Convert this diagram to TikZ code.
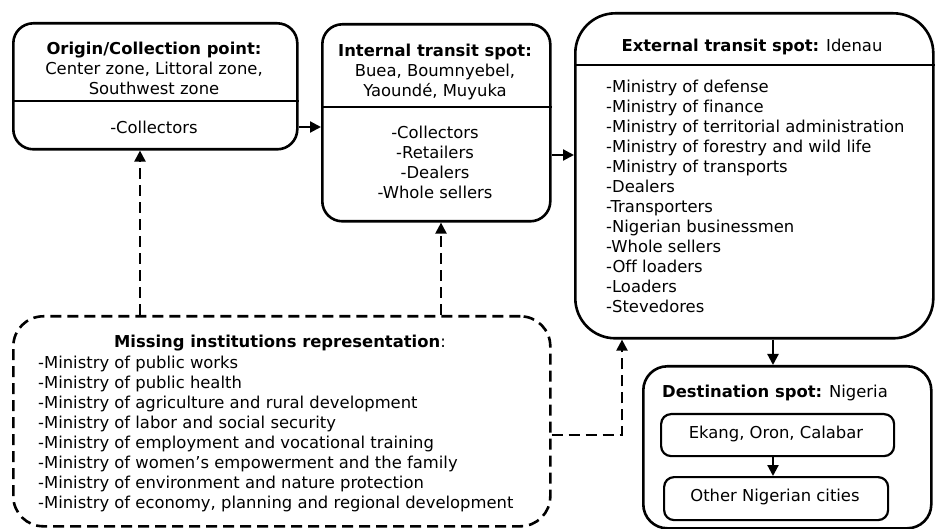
\documentclass[tikz,border=0pt]{standalone}
\usepackage{fontspec}
\setmainfont[Ligatures=NoCommon]{DejaVu Sans}
\usetikzlibrary{arrows.meta}
\begin{document}
\begin{tikzpicture}[x=1pt,y=-1pt,
 box/.style={draw,line width=2.6pt,rounded corners=20pt,inner sep=0pt,anchor=north west},
 txt/.style={inner sep=0pt,font=\fontsize{16.4}{20}\selectfont,align=center},
 ltxt/.style={inner sep=0pt,font=\fontsize{16.4}{20}\selectfont,align=left,anchor=north west},
 flow/.style={line width=2.2pt,-{Triangle[length=11pt,width=11pt]}},
 dflow/.style={flow,dash pattern=on 11pt off 6pt},
 divider/.style={line width=2.6pt}]
\useasboundingbox (0,0) rectangle (935,529);
% boxes
\node[box,minimum width=284pt,minimum height=126pt] (b1) at (12,22) {};
\node[box,minimum width=228pt,minimum height=197pt] (b2) at (321,23) {};
\node[box,minimum width=358pt,minimum height=325pt,rounded corners=40pt] (b3) at (574,12) {};
\node[box,minimum width=288pt,minimum height=162pt,rounded corners=24pt] (d) at (642,365) {};
\node[box,minimum width=233pt,minimum height=42pt,rounded corners=10pt,line width=2.2pt] (e1) at (660,413) {};
\node[box,minimum width=224pt,minimum height=43pt,rounded corners=10pt,line width=2.2pt] (e2) at (663,476) {};
\node[box,minimum width=537pt,minimum height=210pt,rounded corners=30pt,dash pattern=on 11pt off 6pt] (m) at (12,315) {};
% dividers
\draw[divider] (b1.west |- 0,101) -- (b1.east |- 0,101);
\draw[divider] (b2.west |- 0,107) -- (b2.east |- 0,107);
\draw[divider] (b3.west |- 0,65) -- (b3.east |- 0,65);
% texts
\node[txt] (t1) at (154,68) {\textbf{Origin/Collection point:}\\Center zone, Littoral zone,\\Southwest zone};
\node[txt] (t1b) at (154,127) {-Collectors};
\node[txt] (t2) at (435,72) {\textbf{Internal transit spot:}\\Buea, Boumnyebel,\\Yaoundé, Muyuka};
\node[txt] (t2b) at (435,162) {-Collectors\\-Retailers\\-Dealers\\-Whole sellers};
\node[txt] (t3) at (752,47) {\textbf{External transit spot:} Idenau};
\node[ltxt] (t3b) at (606,80) {-Ministry of defense\\-Ministry of finance\\-Ministry of territorial administration\\-Ministry of forestry and wild life\\-Ministry of transports\\-Dealers\\-Transporters\\-Nigerian businessmen\\-Whole sellers\\-Off loaders\\-Loaders\\-Stevedores};
\node[txt] (td) at (775,393) {\textbf{Destination spot:} Nigeria};
\node[txt] (te1) at (776,434) {Ekang, Oron, Calabar};
\node[txt] (te2) at (775,497) {Other Nigerian cities};
\node[txt] (tm) at (280,343) {\textbf{Missing institutions representation}:};
\node[ltxt] (tmb) at (38,356) {-Ministry of public works\\-Ministry of public health\\-Ministry of agriculture and rural development\\-Ministry of labor and social security\\-Ministry of employment and vocational training\\-Ministry of women’s empowerment and the family\\-Ministry of environment and nature protection\\-Ministry of economy, planning and regional development};
% connectors
\draw[flow] (b1.east |- 0,127) -- (b2.west |- 0,127);
\draw[flow] (b2.east |- 0,155) -- (b3.west |- 0,155);
\draw[flow] (b3.south -| 773,0) -- (d.north -| 773,0);
\draw[flow] (e1.south -| 773,0) -- (e2.north -| 773,0);
\draw[dflow] (m.north -| 140,0) -- (b1.south -| 140,0);
\draw[dflow] (m.north -| 441,0) -- (b2.south -| 441,0);
\draw[dflow] (m.east |- 0,435) -| (b3.south -| 622,0);
\end{tikzpicture}
\end{document}
